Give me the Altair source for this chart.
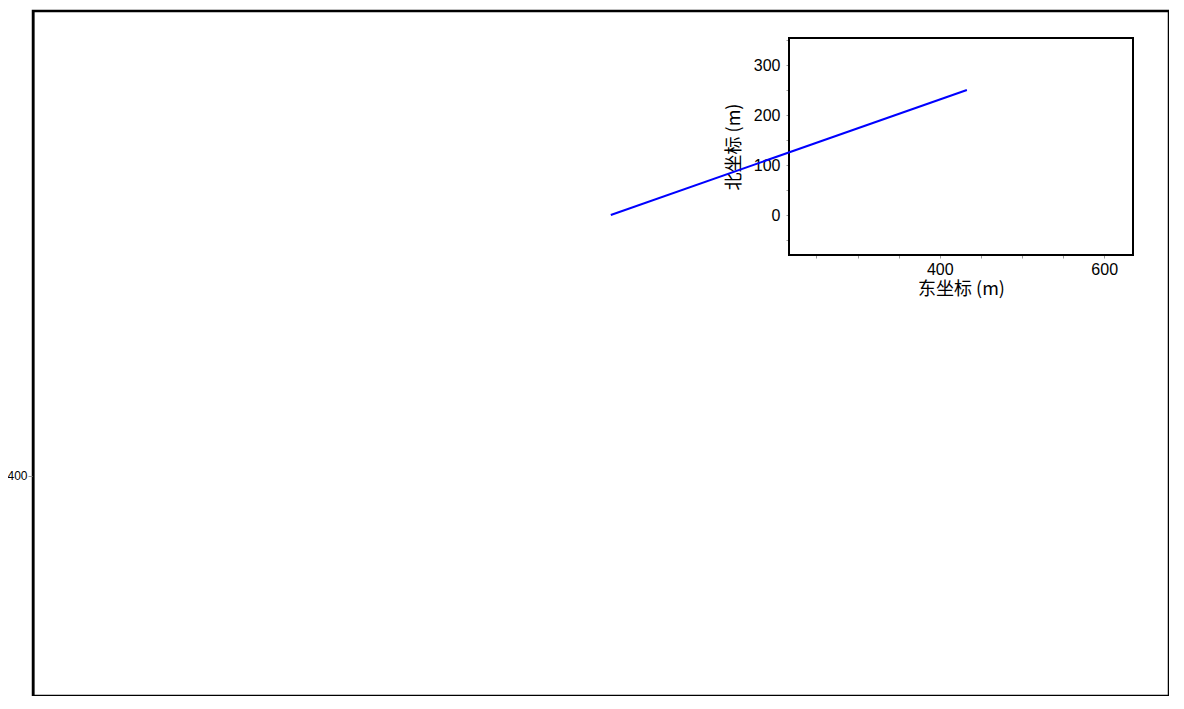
import altair as alt
import pandas as pd

# ---- data ----
EAST = [0, 433]          # line east coordinates (m)
NORTH = [0, 250]         # line north coordinates (m)
INSET_X_DOMAIN = [216.7, 635]
INSET_Y_DOMAIN = [-80, 354]
INSET_X_TICKS = [250, 300, 350, 400, 450, 500, 550, 600]
INSET_Y_TICKS = [-50, 0, 50, 100, 150, 200, 250, 300, 350]
OUTER_Y_DOMAIN = [0, 1245]
OUTER_Y_TICKS = [400]

# ---- layout ----
W, H = 1136, 685
INSET_X_RANGE = [756, 1100]
INSET_Y_RANGE = [244, 27]
LABEL_FONT = "Liberation Sans"
CJK_FONT = "Noto Sans CJK SC"

outer = alt.Chart(pd.DataFrame({"v": OUTER_Y_TICKS})).mark_point(opacity=0).encode(
    y=alt.Y(
        "v:Q",
        scale=alt.Scale(domain=OUTER_Y_DOMAIN, nice=False, zero=False),
        axis=alt.Axis(
            values=OUTER_Y_TICKS, title=None, orient="left", grid=False,
            domain=True, domainColor="black", domainWidth=2,
            tickColor="#999999", tickSize=5, tickWidth=1,
            labelFontSize=12, labelColor="black", labelPadding=1, labelFont=LABEL_FONT,
        ),
    )
)

xs = alt.Scale(domain=INSET_X_DOMAIN, range=INSET_X_RANGE, nice=False, zero=False)
ys = alt.Scale(domain=INSET_Y_DOMAIN, range=INSET_Y_RANGE, nice=False, zero=False)

line_df = pd.DataFrame({"east": EAST, "north": NORTH})

line = alt.Chart(line_df).mark_line(color="#0000ff", strokeWidth=2, clip=False).encode(
    x=alt.X(
        "east:Q", scale=xs,
        axis=alt.Axis(
            orient="bottom", offset=-(H - INSET_Y_RANGE[0]), values=INSET_X_TICKS,
            labelExpr="datum.value % 200 === 0 ? datum.label : ''",
            grid=False, domain=False, tickColor="#999999", tickSize=3,
            labelFontSize=16, labelFont=LABEL_FONT, labelColor="black", labelPadding=3,
            title="东坐标 (m)", titleFont=CJK_FONT, titleFontSize=18,
            titleFontWeight="normal", titleColor="black", titlePadding=3,
        ),
    ),
    y=alt.Y(
        "north:Q", scale=ys,
        axis=alt.Axis(
            orient="left", offset=-INSET_X_RANGE[0], values=INSET_Y_TICKS,
            labelExpr="datum.value % 100 === 0 ? datum.label : ''",
            grid=False, domain=False, tickColor="#999999", tickSize=3,
            labelFontSize=16, labelFont=LABEL_FONT, labelColor="black", labelPadding=6,
            title="北坐标 (m)", titleFont=CJK_FONT, titleFontSize=18,
            titleFontWeight="normal", titleColor="black", titlePadding=10,
        ),
    ),
    order="east:Q",
)

frame = alt.Chart(pd.DataFrame({"a": [0]})).mark_rect(
    filled=False, stroke="black", strokeWidth=2, fill=None
).encode(
    x=alt.datum(INSET_X_DOMAIN[0]),
    x2=alt.datum(INSET_X_DOMAIN[1]),
    y=alt.datum(INSET_Y_DOMAIN[0]),
    y2=alt.datum(INSET_Y_DOMAIN[1]),
)

inset = alt.layer(frame, line)

chart = (
    alt.layer(outer, inset)
    .resolve_scale(x="independent", y="independent")
    .properties(
        width=W, height=H,
        autosize=alt.AutoSizeParams(type="none"),
        padding={"left": 25, "top": 3, "right": 0, "bottom": 0},
        background="white",
    )
    .configure_view(stroke="black", strokeWidth=2.5)
)

chart.save("out.html", embed_options={"renderer": "svg", "actions": False})
